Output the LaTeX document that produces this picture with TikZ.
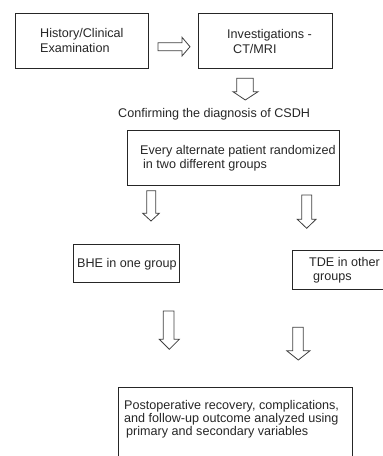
\documentclass[tikz,border=0pt]{standalone}
\usepackage{fontspec}
\setmainfont{Liberation Sans}
\begin{document}
\begin{tikzpicture}[x=1pt,y=-1pt,
  box/.style={draw=black!85,line width=0.9pt,rectangle,inner sep=0pt,anchor=north west},
  txt/.style={inner sep=0pt,anchor=base west,text=black!85,font=\fontsize{12.6}{15}\selectfont},
  blockarrow/.style={draw=black!75,line width=0.8pt,fill=white,line join=miter}]
\useasboundingbox (0,0) rectangle (383,456);
\clip (0,0) rectangle (383,456);
% boxes
\node[box,minimum width=133pt,minimum height=55pt] (hist) at (15,13) {};
\node[box,minimum width=134pt,minimum height=55pt] (inv) at (198,13) {};
\node[box,minimum width=212pt,minimum height=55pt] (rand) at (127,130) {};
\node[box,minimum width=106pt,minimum height=38pt] (bhe) at (73,244) {};
\node[box,minimum width=100pt,minimum height=39pt] (tde) at (292,250) {};
\node[box,minimum width=234pt,minimum height=90pt] (post) at (118,387) {};
% texts
\node[txt] (t1) at (40,37) {History/Clinical};
\node[txt] (t1b) at (40,52) {Examination};
\node[txt] (t2) at (227,38) {Investigations -};
\node[txt] (t2b) at (233,53) {CT/MRI};
\node[txt] (t3) at (118,117) {Confirming the diagnosis of CSDH};
\node[txt] (t4) at (140,154) {Every alternate patient randomized};
\node[txt] (t4b) at (143,168) {in two different groups};
\node[txt] (t5) at (77,267) {BHE in one group};
\node[txt] (t6) at (309,266) {TDE in other};
\node[txt] (t6b) at (313,280) {groups};
\node[txt] (t7) at (124,409) {Postoperative recovery, complications,};
\node[txt] (t7b) at (124,422) {and follow-up outcome analyzed using};
\node[txt] (t7c) at (126,435) {primary and secondary variables};
% block arrows
\draw[blockarrow] (158,42.7) -- (182,42.7) -- (182,37.3) -- (190,46.7) -- (182,56) -- (182,50.7) -- (158,50.7) -- cycle;
\draw[blockarrow] (236.7,78.3) -- (253.3,78.3) -- (253.3,91.7) -- (258,91.7) -- (245.3,100) -- (233,91.7) -- (236.7,91.7) -- cycle;
\draw[blockarrow] (146.7,190.7) -- (155.7,190.7) -- (155.7,213.3) -- (159.3,213.3) -- (151,221) -- (142.7,213.3) -- (146.7,213.3) -- cycle;
\draw[blockarrow] (301.7,195) -- (311.7,195) -- (311.7,219.3) -- (316,219.3) -- (306.7,228.3) -- (297.3,219.3) -- (301.7,219.3) -- cycle;
\draw[blockarrow] (163.3,311) -- (174,311) -- (174,339.3) -- (179.3,339.3) -- (169.3,349.3) -- (159.3,339.3) -- (163.3,339.3) -- cycle;
\draw[blockarrow] (292.7,327.3) -- (303.3,327.3) -- (303.3,350.7) -- (310,350.7) -- (298.3,360) -- (286.7,350.7) -- (292.7,350.7) -- cycle;
\end{tikzpicture}
\end{document}
